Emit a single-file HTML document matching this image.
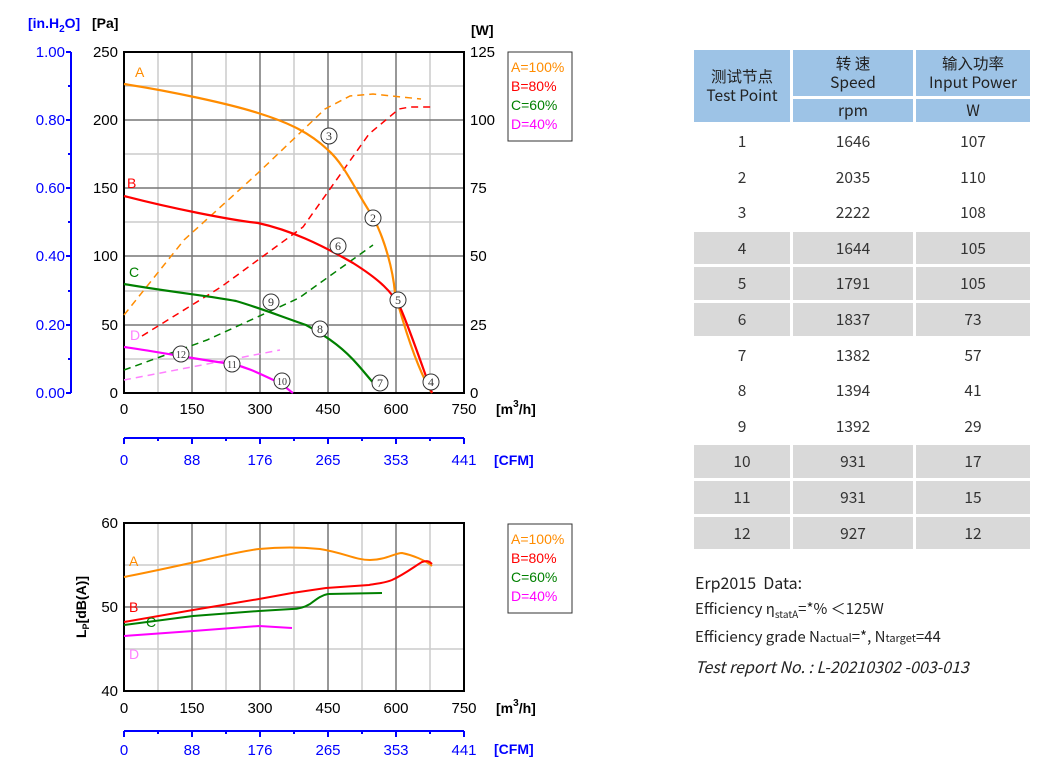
<!DOCTYPE html>
<html><head><meta charset="utf-8"><style>
body{margin:0;background:#fff;width:1047px;height:780px;overflow:hidden;position:relative;font-family:"Liberation Sans","Noto Sans CJK SC",sans-serif}
table{position:absolute;left:694px;top:50px;border-collapse:separate;border-spacing:3px 3px;margin:-3px;font-family:"Noto Sans CJK SC","Liberation Sans",sans-serif;color:#333;font-size:15.5px;text-align:center}
td{padding:0;line-height:1.2}
.h{background:#9dc3e6;color:#222}
.g td{background:#d9d9d9}
.d{height:32.6px}
.info{position:absolute;left:695px;font-family:"Noto Sans CJK SC","Liberation Sans",sans-serif;color:#222;font-size:15px;white-space:nowrap}
</style></head><body>
<svg width="1047" height="780" style="position:absolute;left:0;top:0" font-family="Liberation Sans, sans-serif">
<g stroke="#ccc" stroke-width="1.5">
<line x1="158" y1="52" x2="158" y2="393"/><line x1="226" y1="52" x2="226" y2="393"/><line x1="294" y1="52" x2="294" y2="393"/><line x1="362" y1="52" x2="362" y2="393"/><line x1="430" y1="52" x2="430" y2="393"/>
<line x1="124" y1="86" x2="464" y2="86"/><line x1="124" y1="154" x2="464" y2="154"/><line x1="124" y1="222" x2="464" y2="222"/><line x1="124" y1="291" x2="464" y2="291"/><line x1="124" y1="359" x2="464" y2="359"/>
</g>
<g stroke="#777" stroke-width="1.5">
<line x1="192" y1="52" x2="192" y2="393"/><line x1="260" y1="52" x2="260" y2="393"/><line x1="328" y1="52" x2="328" y2="393"/><line x1="396" y1="52" x2="396" y2="393"/>
<line x1="124" y1="120" x2="464" y2="120"/><line x1="124" y1="188" x2="464" y2="188"/><line x1="124" y1="256" x2="464" y2="256"/><line x1="124" y1="325" x2="464" y2="325"/>
</g>
<rect x="124" y="52" width="340" height="341" fill="none" stroke="#000" stroke-width="2"/>
<g stroke="#0000ff" stroke-width="2"><line x1="71" y1="52" x2="71" y2="393"/>
<line x1="71" y1="52" x2="66" y2="52"/><line x1="71" y1="120" x2="66" y2="120"/><line x1="71" y1="188" x2="66" y2="188"/><line x1="71" y1="256" x2="66" y2="256"/><line x1="71" y1="325" x2="66" y2="325"/><line x1="71" y1="393" x2="66" y2="393"/>
<line x1="71" y1="86" x2="68" y2="86"/><line x1="71" y1="154" x2="68" y2="154"/><line x1="71" y1="222" x2="68" y2="222"/><line x1="71" y1="291" x2="68" y2="291"/><line x1="71" y1="359" x2="68" y2="359"/></g>
<g fill="#0000ff" font-size="15" text-anchor="end">
<text x="65" y="57">1.00</text><text x="65" y="125">0.80</text><text x="65" y="193">0.60</text><text x="65" y="261">0.40</text><text x="65" y="330">0.20</text><text x="65" y="398">0.00</text></g>
<text x="28" y="28" fill="#0000ff" font-size="14" font-weight="bold">[in.H<tspan font-size="10" dy="4">2</tspan><tspan dy="-4">O]</tspan></text>
<text x="92" y="28" font-size="14" font-weight="bold">[Pa]</text>
<text x="471" y="35" font-size="14" font-weight="bold">[W]</text>
<g font-size="15" text-anchor="end"><text x="118" y="57">250</text><text x="118" y="125">200</text><text x="118" y="193">150</text><text x="118" y="261">100</text><text x="118" y="330">50</text><text x="118" y="398">0</text></g>
<g font-size="15"><text x="470" y="57">125</text><text x="470" y="125">100</text><text x="470" y="193">75</text><text x="470" y="261">50</text><text x="470" y="330">25</text><text x="470" y="398">0</text></g>
<g font-size="15" text-anchor="middle"><text x="124" y="414">0</text><text x="192" y="414">150</text><text x="260" y="414">300</text><text x="328" y="414">450</text><text x="396" y="414">600</text><text x="464" y="414">750</text></g>
<text x="496" y="414" font-size="14" font-weight="bold">[m<tspan font-size="10" dy="-7">3</tspan><tspan dy="7">/h]</tspan></text>
<g stroke="#0000ff" stroke-width="2"><line x1="124" y1="438" x2="464" y2="438"/>
<line x1="124" y1="438" x2="124" y2="444"/><line x1="158" y1="438" x2="158" y2="441"/><line x1="192" y1="438" x2="192" y2="444"/><line x1="226" y1="438" x2="226" y2="441"/><line x1="260" y1="438" x2="260" y2="444"/><line x1="294" y1="438" x2="294" y2="441"/><line x1="328" y1="438" x2="328" y2="444"/><line x1="362" y1="438" x2="362" y2="441"/><line x1="396" y1="438" x2="396" y2="444"/><line x1="430" y1="438" x2="430" y2="441"/><line x1="464" y1="438" x2="464" y2="444"/></g>
<g fill="#0000ff" font-size="15" text-anchor="middle"><text x="124" y="465">0</text><text x="192" y="465">88</text><text x="260" y="465">176</text><text x="328" y="465">265</text><text x="396" y="465">353</text><text x="464" y="465">441</text></g>
<text x="494" y="465" fill="#0000ff" font-size="14" font-weight="bold">[CFM]</text>
<rect x="508" y="52" width="64" height="89" fill="#fff" stroke="#333" stroke-width="1"/>
<g font-size="14"><text x="511" y="72" fill="#ff8c00">A=100%</text><text x="511" y="91" fill="#ff0000">B=80%</text><text x="511" y="110" fill="#008000">C=60%</text><text x="511" y="129" fill="#ff00ff">D=40%</text></g>
<g fill="none" stroke-width="1.5" stroke-dasharray="7,5">
<path d="M124,315 L184,240 L258,173 L325,109 L350,96 L373,94 L421,99" stroke="#ff8c00"/>
<path d="M142,336 L221,287 L303,227 L369,134 L399,109 L410,107 L432,107" stroke="#ff0000"/>
<path d="M124,370 L207,340 L299,298 L373,245" stroke="#008000"/>
<path d="M124,380 L280,350" stroke="#ff80ff"/>
</g>
<g fill="none" stroke-width="2.2">
<path d="M124,84 C170,91 230,104 258,113 C290,123 310,133 328,150 C345,165 355,190 373,217 C385,240 393,270 395,293 C405,330 418,370 432,393" stroke="#ff8c00"/>
<path d="M124,196 C170,208 230,220 258,223 C290,230 320,244 353,263 C380,280 392,292 400,307 C410,330 420,360 432,393" stroke="#ff0000"/>
<path d="M124,284 C170,292 210,296 236,301 C260,308 280,316 306,325 C330,338 345,350 358,365 C366,374 372,382 378,388" stroke="#008000"/>
<path d="M124,347 C160,352 200,360 232,364 C250,368 262,375 280,383 C287,388 290,391 293,393" stroke="#ff00ff"/>
</g>
<g font-size="14"><text x="135" y="77" fill="#ff8c00">A</text><text x="127" y="188" fill="#ff0000">B</text><text x="129" y="277" fill="#008000">C</text><text x="130" y="340" fill="#ff80ff">D</text></g>
<g fill="#fff" stroke="#333" stroke-width="1"><circle cx="329" cy="136" r="8"/><circle cx="373" cy="218" r="8"/><circle cx="431" cy="382" r="8"/><circle cx="398" cy="300" r="8"/><circle cx="338" cy="246" r="8"/><circle cx="380" cy="383" r="8"/><circle cx="320" cy="329" r="8"/><circle cx="271" cy="302" r="8"/><circle cx="282" cy="381" r="8"/><circle cx="232" cy="364" r="8"/><circle cx="181" cy="354" r="8"/></g>
<g font-size="12" text-anchor="middle" fill="#333" font-family="Liberation Serif, serif"><text x="329" y="140">3</text><text x="373" y="222">2</text><text x="431" y="386">4</text><text x="398" y="304">5</text><text x="338" y="250">6</text><text x="380" y="387">7</text><text x="320" y="333">8</text><text x="271" y="306">9</text><text x="282" y="385" font-size="10">10</text><text x="232" y="368" font-size="10">11</text><text x="181" y="358" font-size="10">12</text></g>
<g stroke="#ccc" stroke-width="1.5">
<line x1="158" y1="523" x2="158" y2="691"/><line x1="226" y1="523" x2="226" y2="691"/><line x1="294" y1="523" x2="294" y2="691"/><line x1="362" y1="523" x2="362" y2="691"/><line x1="430" y1="523" x2="430" y2="691"/>
<line x1="124" y1="565" x2="464" y2="565"/><line x1="124" y1="649" x2="464" y2="649"/></g>
<g stroke="#777" stroke-width="1.5"><line x1="192" y1="523" x2="192" y2="691"/><line x1="260" y1="523" x2="260" y2="691"/><line x1="328" y1="523" x2="328" y2="691"/><line x1="396" y1="523" x2="396" y2="691"/><line x1="124" y1="607" x2="464" y2="607"/></g>
<rect x="124" y="523" width="340" height="168" fill="none" stroke="#000" stroke-width="2"/>
<g font-size="15" text-anchor="end"><text x="118" y="528">60</text><text x="118" y="612">50</text><text x="118" y="696">40</text></g>
<text transform="translate(86,607) rotate(-90)" font-size="14" font-weight="bold" text-anchor="middle">L<tspan font-size="9" dy="3">P</tspan><tspan dy="-3">[dB(A)]</tspan></text>
<g font-size="15" text-anchor="middle"><text x="124" y="713">0</text><text x="192" y="713">150</text><text x="260" y="713">300</text><text x="328" y="713">450</text><text x="396" y="713">600</text><text x="464" y="713">750</text></g>
<text x="496" y="713" font-size="14" font-weight="bold">[m<tspan font-size="10" dy="-7">3</tspan><tspan dy="7">/h]</tspan></text>
<g stroke="#0000ff" stroke-width="2"><line x1="124" y1="731" x2="464" y2="731"/>
<line x1="124" y1="731" x2="124" y2="737"/><line x1="158" y1="731" x2="158" y2="734"/><line x1="192" y1="731" x2="192" y2="737"/><line x1="226" y1="731" x2="226" y2="734"/><line x1="260" y1="731" x2="260" y2="737"/><line x1="294" y1="731" x2="294" y2="734"/><line x1="328" y1="731" x2="328" y2="737"/><line x1="362" y1="731" x2="362" y2="734"/><line x1="396" y1="731" x2="396" y2="737"/><line x1="430" y1="731" x2="430" y2="734"/><line x1="464" y1="731" x2="464" y2="737"/></g>
<g fill="#0000ff" font-size="15" text-anchor="middle"><text x="124" y="755">0</text><text x="192" y="755">88</text><text x="260" y="755">176</text><text x="328" y="755">265</text><text x="396" y="755">353</text><text x="464" y="755">441</text></g>
<text x="494" y="754" fill="#0000ff" font-size="14" font-weight="bold">[CFM]</text>
<rect x="508" y="524" width="64" height="89" fill="#fff" stroke="#333" stroke-width="1"/>
<g font-size="14"><text x="511" y="544" fill="#ff8c00">A=100%</text><text x="511" y="563" fill="#ff0000">B=80%</text><text x="511" y="582" fill="#008000">C=60%</text><text x="511" y="601" fill="#ff00ff">D=40%</text></g>
<g fill="none" stroke-width="2">
<path d="M124,577 C160,570 190,563 200,561 C230,554 250,550 259,549 C280,547 300,547 320,549 C345,553 355,560 370,560 C385,560 395,553 402,553 C412,555 425,560 432,566" stroke="#ff8c00"/>
<path d="M124,622 L193,610 L259,599 L292,593 L326,588 L369,585 C380,583 385,583 392,580 C405,574 415,566 422,562 C428,560 430,562 432,564" stroke="#ff0000"/>
<path d="M124,625 L193,616 L259,611 L292,609 C300,609 305,607 310,604 C318,598 322,595 328,594 L382,593" stroke="#008000"/>
<path d="M124,636 L193,631 L259,626 L292,628" stroke="#ff00ff"/>
</g>
<g font-size="14"><text x="129" y="566" fill="#ff8c00">A</text><text x="129" y="612" fill="#ff0000">B</text><text x="146" y="627" fill="#008000">C</text><text x="129" y="659" fill="#ff80ff">D</text></g>
</svg>
<table>
<tr><td class="h" rowspan="2" style="width:96px;height:72px">测试节点<br>Test Point</td><td class="h" style="width:120px;height:46px">转 速<br>Speed</td><td class="h" style="width:114px">输入功率<br>Input Power</td></tr>
<tr><td class="h" style="height:23px">rpm</td><td class="h">W</td></tr>
<tr><td class="d">1</td><td>1646</td><td>107</td></tr>
<tr><td class="d">2</td><td>2035</td><td>110</td></tr>
<tr><td class="d">3</td><td>2222</td><td>108</td></tr>
<tr class="g"><td class="d">4</td><td>1644</td><td>105</td></tr>
<tr class="g"><td class="d">5</td><td>1791</td><td>105</td></tr>
<tr class="g"><td class="d">6</td><td>1837</td><td>73</td></tr>
<tr><td class="d">7</td><td>1382</td><td>57</td></tr>
<tr><td class="d">8</td><td>1394</td><td>41</td></tr>
<tr><td class="d">9</td><td>1392</td><td>29</td></tr>
<tr class="g"><td class="d">10</td><td>931</td><td>17</td></tr>
<tr class="g"><td class="d">11</td><td>931</td><td>15</td></tr>
<tr class="g"><td class="d">12</td><td>927</td><td>12</td></tr>
</table>
<div class="info" style="top:570px;font-size:16px">Erp2015&nbsp; Data:</div>
<div class="info" style="top:598px">Efficiency η<sub style="font-size:10px">statA</sub>=*% ＜125W</div>
<div class="info" style="top:626px">Efficiency grade N<span style="font-size:11px">actual</span>=*, N<span style="font-size:11px">target</span>=44</div>
<div class="info" style="top:654px;font-style:italic;font-size:16px">Test report No. : L-20210302 -003-013</div>
</body></html>
